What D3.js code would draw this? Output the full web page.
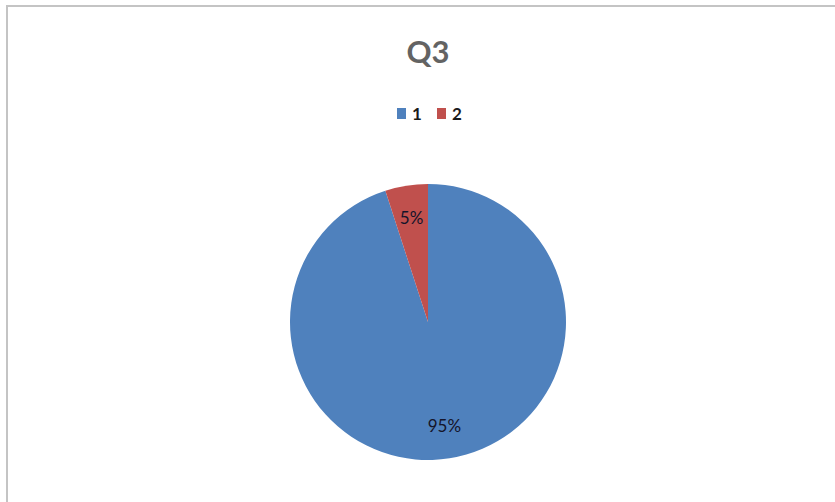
<!DOCTYPE html>
<html>
<head>
<meta charset="utf-8">
<script src="https://cdn.jsdelivr.net/npm/d3@7"></script>
<style>
  html, body { margin: 0; padding: 0; background: #fff; }
  svg { display: block; }
</style>
</head>
<body>
<svg id="chart" width="835" height="502"></svg>
<script>
const categories = ["1", "2"];
const values = [95, 5];
const labels = ["95%", "5%"];
const colors = ["#4F81BD", "#C0504D"];
const title = "Q3";

const W = 835, H = 502;
const svg = d3.select("#chart");

// chart frame
svg.append("path")
  .attr("d", `M7,${H + 5} L7,6 L${W + 5},6`)
  .attr("fill", "none")
  .attr("stroke", "#c4c4c4")
  .attr("stroke-width", 2);

// title
svg.append("text")
  .attr("x", 428).attr("y", 63)
  .attr("text-anchor", "middle")
  .attr("font-family", "Lato, 'Open Sans', sans-serif")
  .attr("font-weight", "bold")
  .attr("font-size", 31)
  .attr("fill", "#636363")
  .text(title);

// legend
const color = d3.scaleOrdinal().domain(categories).range(colors);
const legendX = d3.scalePoint().domain(categories).range([397, 437]);
const leg = svg.append("g").selectAll("g").data(categories).join("g")
  .attr("transform", d => `translate(${legendX(d)},108)`);
leg.append("rect").attr("width", 9).attr("height", 11).attr("fill", d => color(d));
leg.append("text")
  .attr("x", 15).attr("y", 11.5)
  .attr("font-family", "Lato, 'Open Sans', sans-serif")
  .attr("font-weight", "bold")
  .attr("font-size", 17)
  .attr("fill", "#1a1a1a")
  .text(d => d);

// pie
const cx = 428, cy = 322, r = 138;
const pie = d3.pie().sort(null).value(d => d.v);
const data = categories.map((c, i) => ({ c, v: values[i], label: labels[i] }));
const arcs = pie(data);
const arc = d3.arc().innerRadius(0).outerRadius(r);
const labelArc = d3.arc().innerRadius(r * 0.76).outerRadius(r * 0.76);

const g = svg.append("g").attr("transform", `translate(${cx},${cy})`);
g.selectAll("path").data(arcs).join("path")
  .attr("d", arc)
  .attr("fill", d => color(d.data.c));

g.selectAll("text").data(arcs).join("text")
  .attr("transform", d => `translate(${labelArc.centroid(d)})`)
  .attr("text-anchor", "middle")
  .attr("dy", "0.35em")
  .attr("font-family", "Lato, 'Open Sans', sans-serif")
  .attr("font-size", 17)
  .attr("fill", "#14142a")
  .text(d => d.data.label);
</script>
</body>
</html>
